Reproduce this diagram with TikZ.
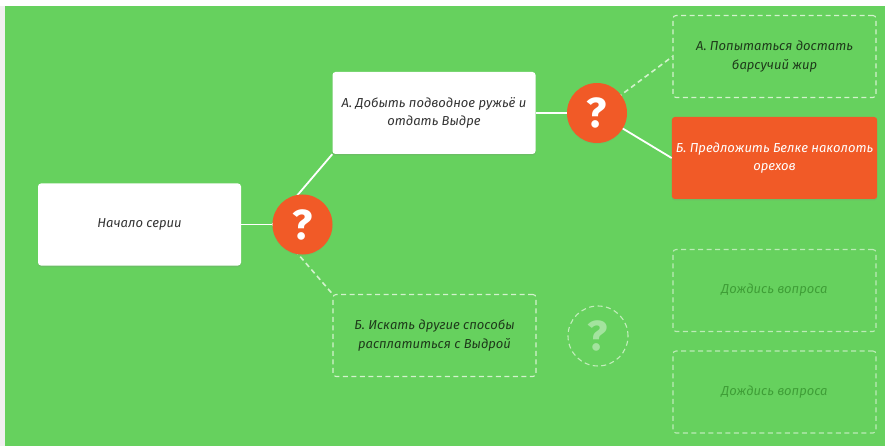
\documentclass[tikz,border=0pt]{standalone}
\usepackage{fontspec}
\setmainfont{Fira Sans}
\usetikzlibrary{shadows,calc}
\definecolor{bggreen}{HTML}{66D15E}
\definecolor{qorange}{HTML}{F15A27}
\definecolor{darktxt}{HTML}{333333}
\definecolor{dashtxt}{HTML}{1E3A1A}
\definecolor{waittxt}{HTML}{3F9E37}
\definecolor{dashline}{HTML}{D2F2CC}
\begin{document}
\begin{tikzpicture}[x=1pt,y=-1pt,
  card/.style={rectangle, rounded corners=3pt, minimum width=203pt, minimum height=82pt,
    align=center, font=\fontsize{13}{18.5}\selectfont\itshape, inner sep=4pt},
  whitecard/.style={card, fill=white, text=darktxt,
    drop shadow={opacity=0.22, shadow xshift=0pt, shadow yshift=-1.5pt}},
  orangecard/.style={card, fill=qorange, text=white,
    drop shadow={opacity=0.22, shadow xshift=0pt, shadow yshift=-1.5pt}},
  dashcard/.style={card, draw=dashline, line width=1.1pt, dash pattern=on 5pt off 3.5pt, text=dashtxt},
  waitcard/.style={dashcard, draw=dashline!80!bggreen, text=waittxt},
  qcircle/.style={circle, fill=qorange, minimum size=60pt, inner sep=0pt, text=white,
    font=\fontsize{42}{42}\selectfont\bfseries,
    drop shadow={opacity=0.15, shadow xshift=0pt, shadow yshift=-1pt}},
  qdash/.style={circle, draw=dashline!85!bggreen, line width=1.1pt, dash pattern=on 5pt off 3.5pt,
    minimum size=60pt, inner sep=0pt, text=white, text opacity=0.4,
    font=\fontsize{42}{42}\selectfont\bfseries},
  solidlink/.style={draw=white, line width=1.8pt},
  dashlink/.style={draw=dashline, line width=1.6pt, dash pattern=on 5pt off 3.5pt}
]
\useasboundingbox (0,0) rectangle (885,446);
\fill[white] (0,0) rectangle (885,446);
\fill[black!6] (0,6) rectangle (5,446);
\fill[bggreen] (5,6) rectangle (885,446);

% nodes
\node[whitecard] (start) at (139.5,224.5) {Начало серии};
\node[whitecard] (a) at (434,113) {А. Добыть подводное ружьё и\\отдать Выдре};
\node[dashcard] (b) at (434.5,335.5) {Б. Искать другие способы\\расплатиться с Выдрой};
\node[dashcard] (a2) at (774.5,56.5) {А. Попытаться достать\\барсучий жир};
\node[orangecard] (b2) at (774.5,158) {Б. Предложить Белке наколоть\\орехов};
\node[waitcard] (w1) at (774.5,290.5) {Дождись вопроса};
\node[waitcard] (w2) at (774.5,392) {Дождись вопроса};

\coordinate (q1c) at (302.5,224.5);
\coordinate (q2c) at (597,113);

% connectors (behind circles)
\draw[solidlink] (start.east) -- (q1c);
\draw[solidlink] ($(q1c)+(-30,0)$) -- (a.south west);
\draw[dashlink] ($(q1c)+(-30,0)$) -- (b.north west);
\draw[solidlink] (a.east) -- (q2c);
\draw[dashlink] (q2c) -- (a2.west);
\draw[solidlink] (q2c) -- (b2.west);

\node[qcircle] (q1) at (q1c) {?};
\node[qcircle] (q2) at (q2c) {?};
\node[qdash] (q3) at (598,336) {?};
\end{tikzpicture}
\end{document}
